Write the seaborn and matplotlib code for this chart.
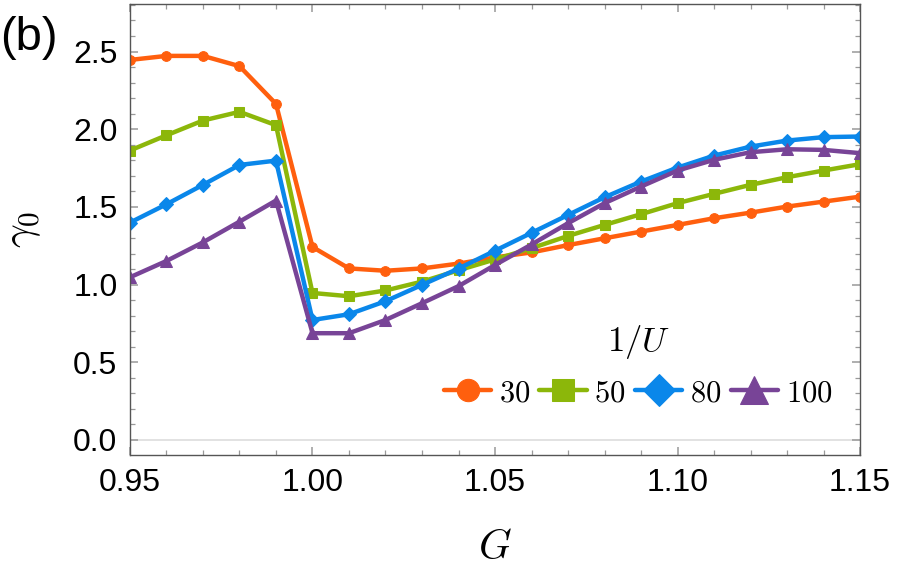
import numpy as np
import pandas as pd
import matplotlib
matplotlib.use('Agg')
import matplotlib.pyplot as plt
from matplotlib.ticker import MultipleLocator, FormatStrFormatter
import seaborn as sns

# ─── Data ───────────────────────────────────────────────────────────────────
G = [0.95, 0.96, 0.97, 0.98, 0.99, 1.00, 1.01, 1.02, 1.03, 1.04, 1.05,
     1.06, 1.07, 1.08, 1.09, 1.10, 1.11, 1.12, 1.13, 1.14, 1.15]

inv_U = ['30', '50', '80', '100']

gamma_30 = [2.446, 2.472, 2.472, 2.406, 2.163, 1.242, 1.104, 1.089, 1.104, 1.135, 1.175,
            1.207, 1.254, 1.298, 1.341, 1.384, 1.427, 1.463, 1.502, 1.534, 1.566]
gamma_50 = [1.863, 1.961, 2.056, 2.112, 2.026, 0.946, 0.925, 0.962, 1.019, 1.092, 1.162,
            1.234, 1.313, 1.384, 1.453, 1.524, 1.584, 1.642, 1.691, 1.734, 1.775]
gamma_80 = [1.399, 1.517, 1.642, 1.770, 1.798, 0.772, 0.809, 0.893, 0.998, 1.103, 1.218,
            1.333, 1.448, 1.562, 1.663, 1.753, 1.830, 1.888, 1.927, 1.949, 1.953]
gamma_100 = [1.047, 1.152, 1.272, 1.405, 1.541, 0.687, 0.687, 0.772, 0.880, 0.990, 1.126,
             1.258, 1.395, 1.524, 1.631, 1.734, 1.803, 1.852, 1.871, 1.867, 1.846]

series = [gamma_30, gamma_50, gamma_80, gamma_100]
df = pd.concat([pd.DataFrame({'G': G, 'gamma': s, 'U': u}) for u, s in zip(inv_U, series)],
               ignore_index=True)

colors = ['#FF5F0E', '#8CB70A', '#0A87EA', '#784497']
markers = ['o', 's', 'D', '^']
msizes = [7, 7, 7, 9]

# ─── Style ──────────────────────────────────────────────────────────────────
sns.set_style('ticks')
plt.rcParams['font.family'] = ['Liberation Sans', 'DejaVu Sans']
plt.rcParams['mathtext.fontset'] = 'cm'
plt.rcParams['text.color'] = 'black'
plt.rcParams['axes.labelcolor'] = 'black'

fig = plt.figure(figsize=(8.97, 5.80), dpi=100)
ax = fig.add_axes([0.1449, 0.2155, 0.8139, 0.7776])

ax.axhline(0, color='#dddddd', lw=1.2, zorder=0)

for u, c, m, ms in zip(inv_U, colors, markers, msizes):
    sns.lineplot(data=df[df['U'] == u], x='G', y='gamma', ax=ax, color=c,
                 marker=m, markersize=ms, markeredgecolor=c, lw=3.2,
                 label=rf'${u}$', sort=False)

ax.set_xlim(0.95, 1.15)
ax.set_ylim(-0.097, 2.806)

ax.xaxis.set_major_locator(MultipleLocator(0.05))
ax.xaxis.set_minor_locator(MultipleLocator(0.01))
ax.yaxis.set_major_locator(MultipleLocator(0.5))
ax.yaxis.set_minor_locator(MultipleLocator(0.1))
ax.xaxis.set_major_formatter(FormatStrFormatter('%.2f'))
ax.yaxis.set_major_formatter(FormatStrFormatter('%.1f'))

ax.tick_params(which='both', direction='in', top=True, right=True, color='#999999')
ax.tick_params(which='major', length=6, width=1.1, labelsize=23, pad=9, labelcolor='black')
ax.tick_params(which='minor', length=3.5, width=0.9)
for sp in ax.spines.values():
    sp.set_color('#555555')
    sp.set_linewidth(1.0)

ax.set_xlabel(r'$G$', fontsize=30, labelpad=22)
ax.set_ylabel(r'$\gamma_0$', fontsize=30, labelpad=22)

fig.text(0.0, 0.935, '(b)', fontsize=34, ha='left', va='center')

leg = ax.legend(title=r'$1/U$', ncol=4, loc='center', bbox_to_anchor=(0.696, 0.198),
                frameon=False, fontsize=22, title_fontsize=25, markerscale=2.3,
                handlelength=1.55, handletextpad=0.25, columnspacing=0.3,
                borderaxespad=0)
leg._legend_box.sep = 12

fig.savefig('out.png', dpi=100)
